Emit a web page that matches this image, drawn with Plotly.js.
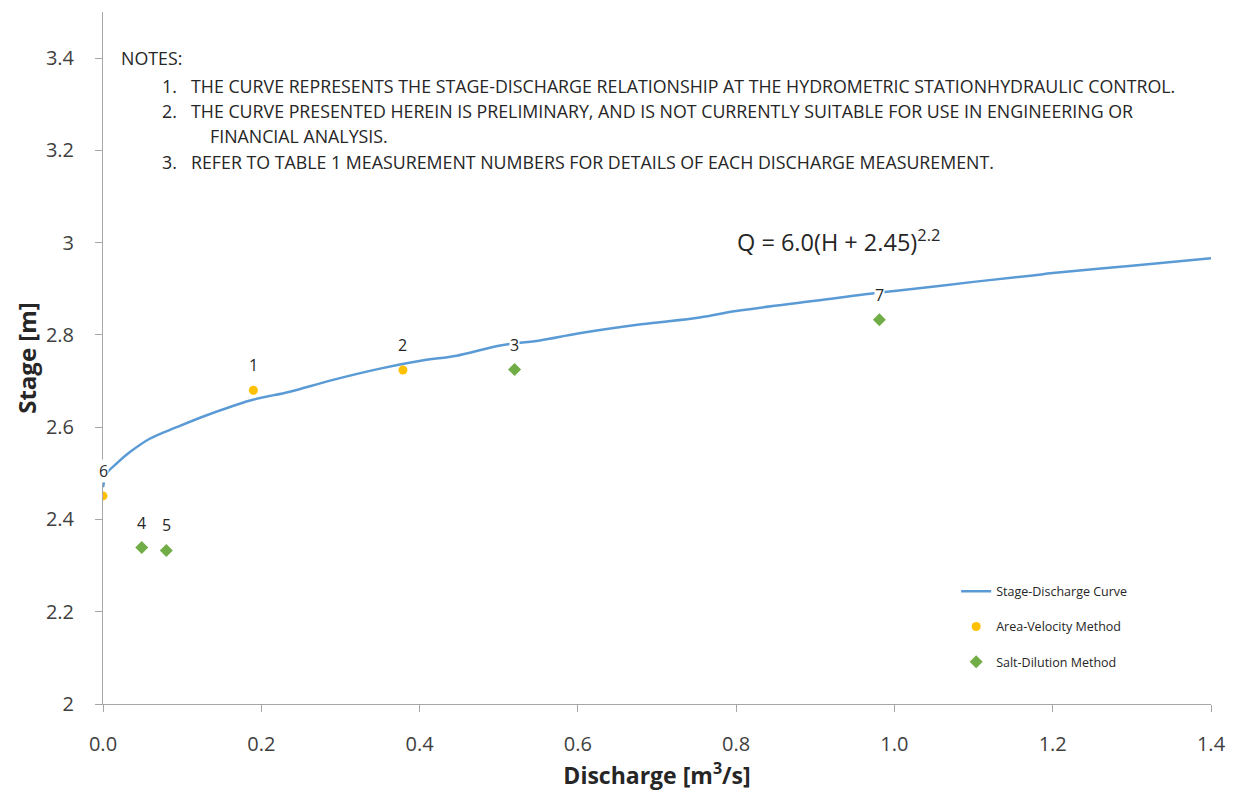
<!DOCTYPE html>
<html>
<head>
<meta charset="utf-8">
<script src="https://cdn.plot.ly/plotly-3.0.1.min.js"></script>
<style>html,body{margin:0;padding:0;background:#fff;}#chart{width:1236px;height:792px;}</style>
</head>
<body>
<div id="chart"></div>
<script>
// Stage-discharge curve
const curveQ = [0.0, 0.005, 0.017, 0.034, 0.059, 0.093, 0.131, 0.186, 0.236, 0.287, 0.350, 0.405, 0.447, 0.502, 0.552, 0.600, 0.680, 0.754, 0.800, 0.900, 0.982, 1.000, 1.100, 1.175, 1.200, 1.300, 1.400];
const curveH = [2.470, 2.500, 2.521, 2.546, 2.575, 2.600, 2.626, 2.658, 2.677, 2.701, 2.727, 2.745, 2.755, 2.777, 2.788, 2.803, 2.823, 2.838, 2.852, 2.874, 2.892, 2.895, 2.915, 2.929, 2.934, 2.950, 2.966];

// Area-Velocity measurements
const avQ = [0.190, 0.379, 0.0];
const avH = [2.680, 2.724, 2.451];
const avLabels = ["1", "2", "6"];

// Salt-Dilution measurements
const sdQ = [0.520, 0.049, 0.080, 0.981];
const sdH = [2.725, 2.339, 2.333, 2.833];
const sdLabels = ["3", "4", "5", "7"];

const notesTitle = "NOTES:";
const noteNums = ["1.", "2.", "", "3."];
const noteTexts = [
  "THE CURVE REPRESENTS THE STAGE-DISCHARGE RELATIONSHIP AT THE HYDROMETRIC STATIONHYDRAULIC CONTROL.",
  "THE CURVE PRESENTED HEREIN IS PRELIMINARY, AND IS NOT CURRENTLY SUITABLE FOR USE IN ENGINEERING OR",
  "FINANCIAL ANALYSIS.",
  "REFER TO TABLE 1 MEASUREMENT NUMBERS FOR DETAILS OF EACH DISCHARGE MEASUREMENT."
];
const equation = "Q = 6.0(H + 2.45)<sup>2.2</sup>";

const FONT = "'Open Sans', Lato, sans-serif";
const TXT = "#262626";

const traces = [
  {x: curveQ, y: curveH, mode: "lines", name: "Stage-Discharge Curve", legendgroup: "a",
   line: {color: "#5B9BD5", width: 2.5, shape: "spline"}},
  {x: avQ, y: avH, mode: "markers", name: "Area-Velocity Method", legendgroup: "b",
   marker: {color: "#FFC000", size: 9, symbol: "circle"}},
  {x: sdQ, y: sdH, mode: "markers", name: "Salt-Dilution Method", legendgroup: "c",
   marker: {color: "#70AD47", size: 10, symbol: "diamond"}}
];

const annotations = [];
function addLabels(xs, ys, labels) {
  xs.forEach((x, i) => annotations.push({
    x: x, y: ys[i], xref: "x", yref: "y", text: labels[i], showarrow: false,
    yshift: 25, font: {family: FONT, size: 16, color: TXT}, bgcolor: "#ffffff", borderpad: 0
  }));
}
addLabels(avQ, avH, avLabels);
addLabels(sdQ, sdH, sdLabels);

const NOTE_SIZE = 17.8;
annotations.push({xref: "paper", yref: "paper", x: 0.0144, y: 0.9335, xanchor: "left", yanchor: "middle",
  text: notesTitle, showarrow: false, font: {family: FONT, size: NOTE_SIZE, color: TXT}});
const noteY = [0.893, 0.857, 0.8208, 0.783];
noteTexts.forEach((t, i) => {
  if (noteNums[i]) annotations.push({xref: "paper", yref: "paper", x: 0.0514, y: noteY[i], xanchor: "left", yanchor: "middle",
    text: noteNums[i], showarrow: false, font: {family: FONT, size: NOTE_SIZE, color: TXT}});
  annotations.push({xref: "paper", yref: "paper", x: noteNums[i] ? 0.0776 : 0.0948, y: noteY[i], xanchor: "left", yanchor: "middle",
    text: t, showarrow: false, font: {family: FONT, size: NOTE_SIZE, color: TXT}});
});
annotations.push({xref: "paper", yref: "paper", x: 0.570, y: 0.6705, xanchor: "left", yanchor: "middle",
  text: equation, showarrow: false, font: {family: FONT, size: 23.5, color: TXT}});

const layout = {
  width: 1236, height: 792,
  margin: {l: 103, r: 25, t: 12, b: 88},
  paper_bgcolor: "#ffffff", plot_bgcolor: "#ffffff",
  font: {family: FONT, color: "#404040"},
  showlegend: true,
  legend: {x: 0.77, y: 0.184, xanchor: "left", yanchor: "top", font: {family: FONT, size: 12.5, color: TXT},
    tracegroupgap: 16, bgcolor: "rgba(0,0,0,0)"},
  xaxis: {range: [0, 1.4], dtick: 0.2, tick0: 0, tickformat: ".1f", showgrid: false, zeroline: false,
    showline: true, linecolor: "#a6a6a6", linewidth: 1, ticks: "outside", ticklen: 7, tickcolor: "#a6a6a6",
    ticklabelstandoff: 15, automargin: false,
    tickfont: {family: FONT, size: 20, color: "#404040"},
    title: {text: "Discharge [m<sup>3</sup>/s]", font: {family: FONT, size: 23, color: TXT, weight: "bold"}, standoff: 11}},
  yaxis: {range: [2, 3.5], dtick: 0.2, tick0: 2, showgrid: false, zeroline: false,
    showline: true, linecolor: "#a6a6a6", linewidth: 1, ticks: "outside", ticklen: 7, tickcolor: "#a6a6a6",
    ticklabelstandoff: 17, automargin: false,
    tickfont: {family: FONT, size: 20, color: "#404040"},
    title: {text: "Stage [m]", font: {family: FONT, size: 24, color: TXT, weight: "bold"}, standoff: 2}},
  annotations: annotations
};

Plotly.newPlot("chart", traces, layout, {displayModeBar: false, staticPlot: true});
</script>
</body>
</html>
